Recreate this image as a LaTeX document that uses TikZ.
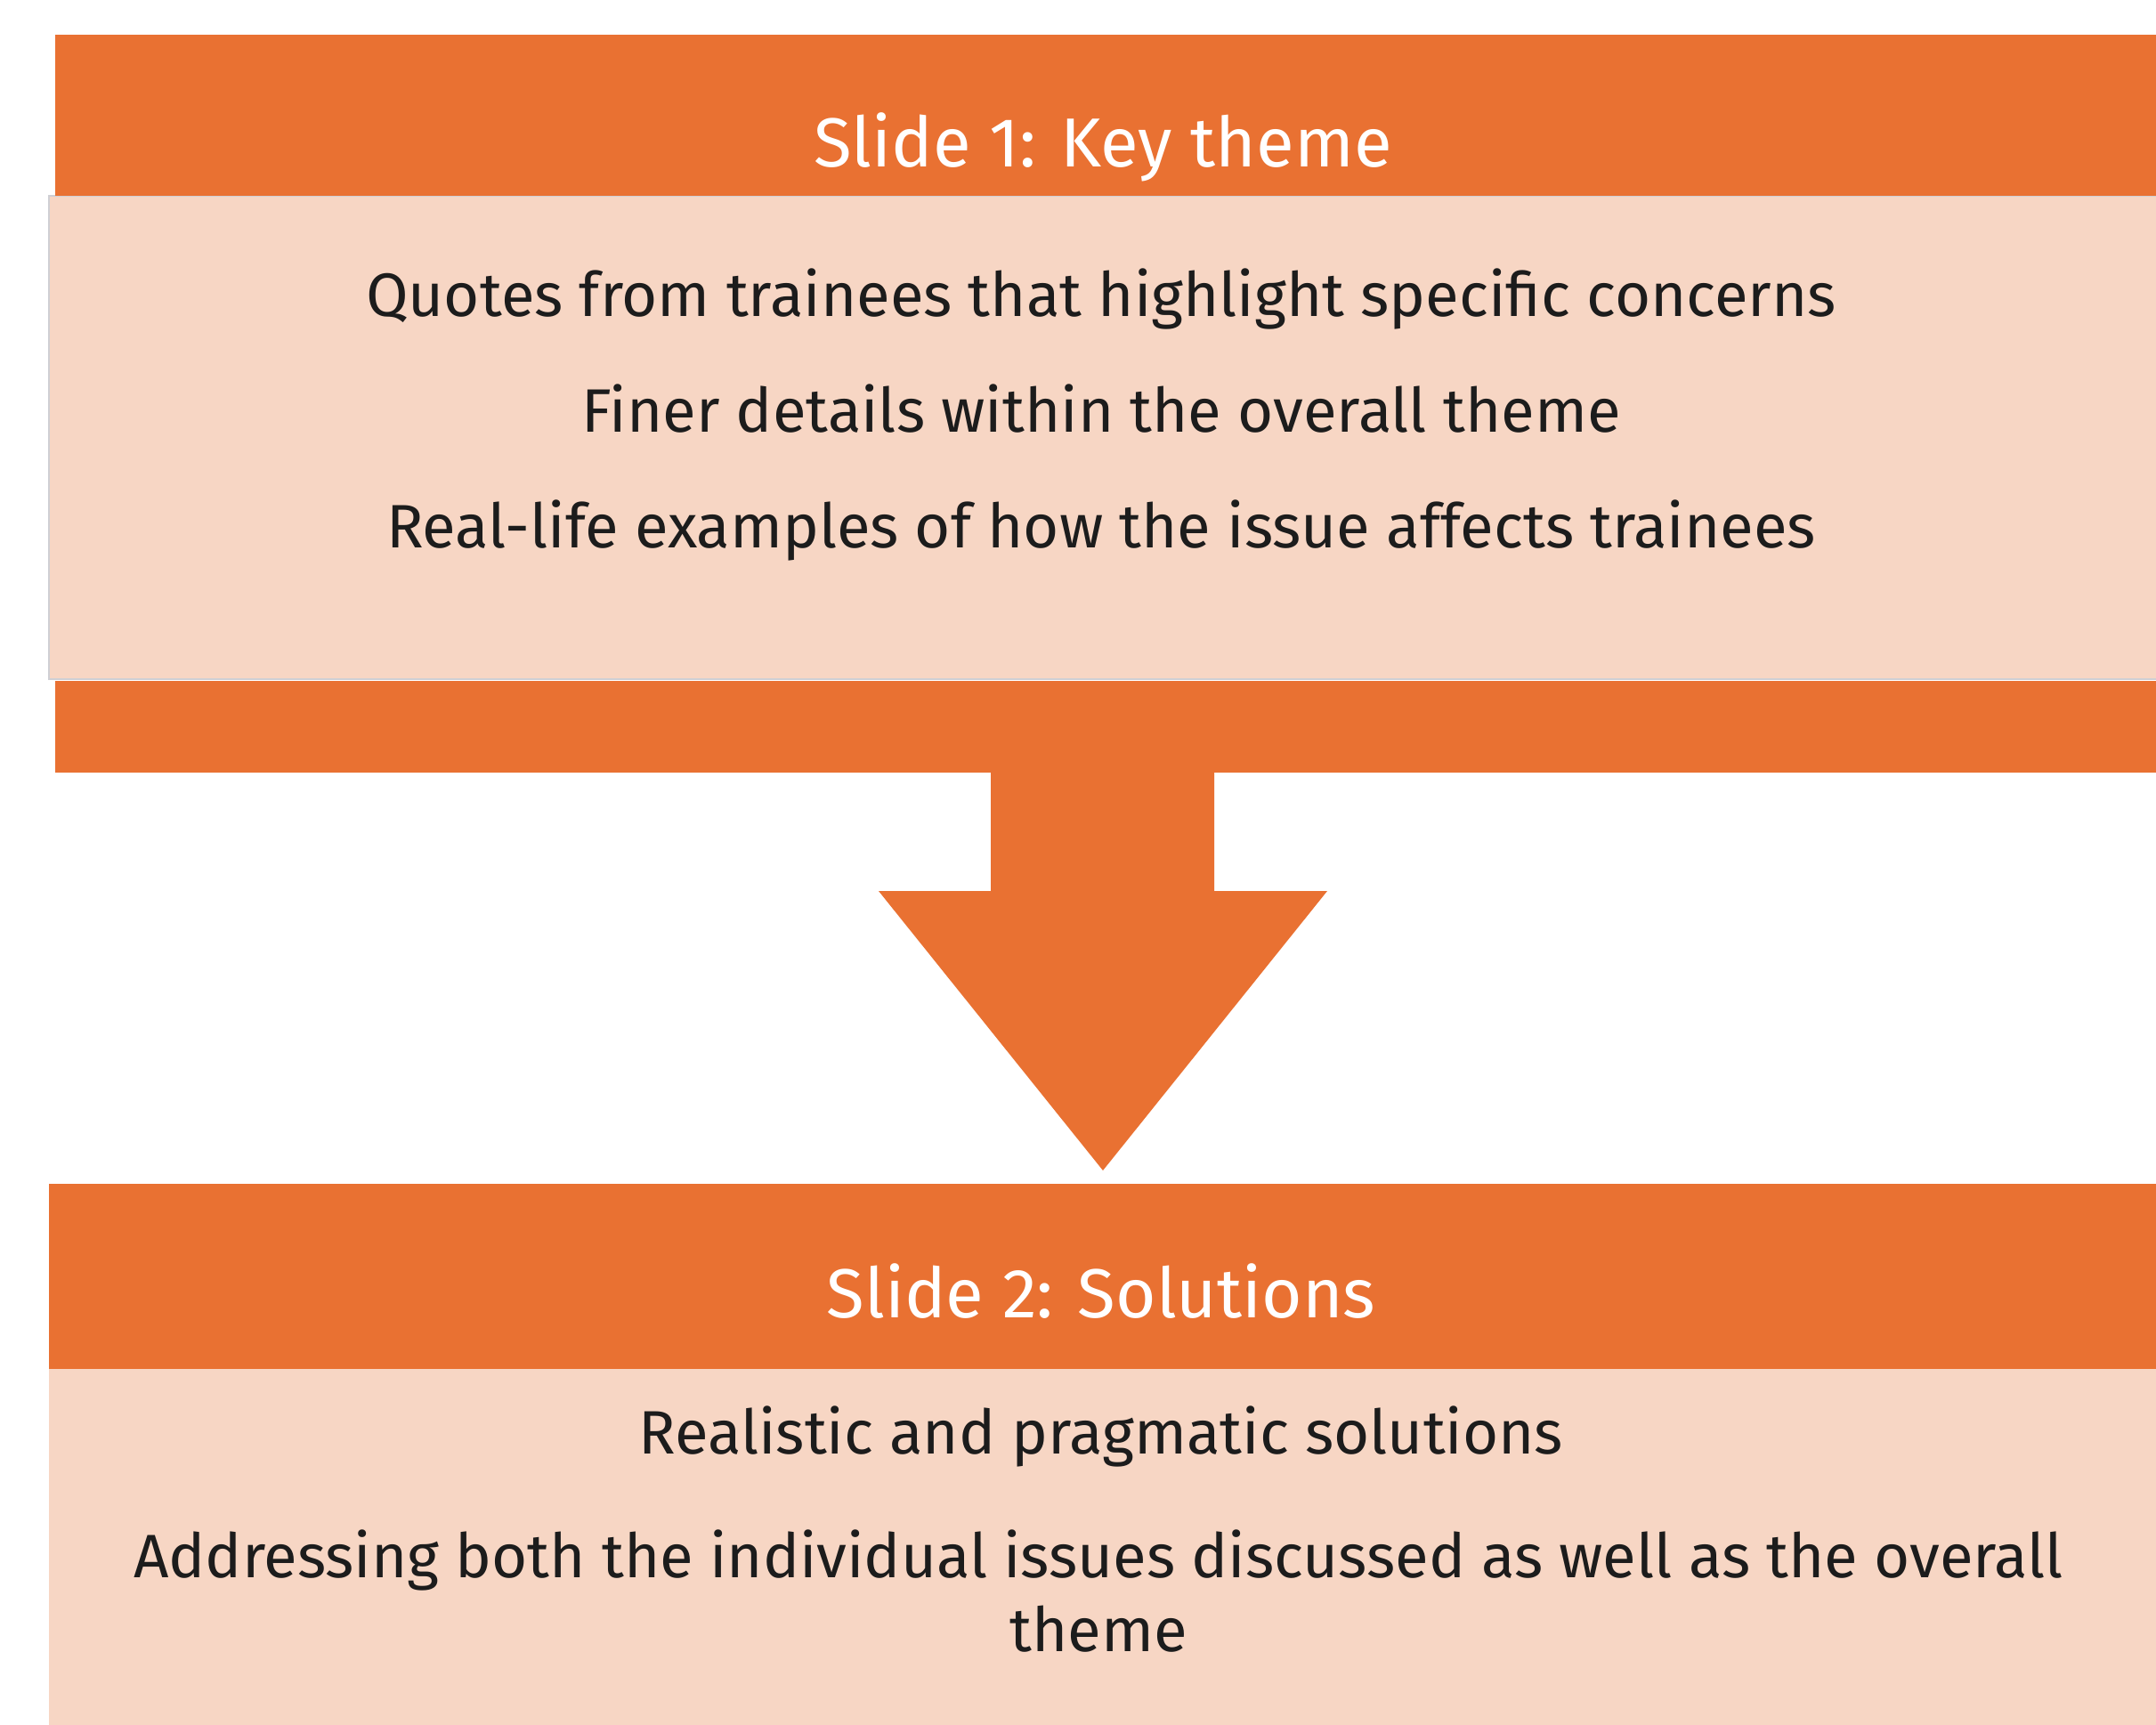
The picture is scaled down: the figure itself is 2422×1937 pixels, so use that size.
\documentclass[tikz,border=0pt]{standalone}
\usepackage{fontspec}
\setmainfont{Fira Sans}
\usepackage{xcolor}
\definecolor{band}{HTML}{E97132}
\definecolor{pane}{HTML}{F7D6C4}
\definecolor{ink}{HTML}{1C1C1C}
\definecolor{edge}{HTML}{CFCFD4}
\usetikzlibrary{positioning}
\tikzset{
  bar/.style={fill=band,draw=none,anchor=north west,inner sep=0pt,minimum width=#1},
  bar/.default=236.1mm,
  panel/.style={fill=pane,anchor=north west,inner sep=0pt,minimum width=236.8mm},
  head/.style={anchor=base,text=white,font=\fontsize{22.2}{27}\selectfont,inner sep=0pt},
  line/.style={anchor=base,text=ink,font=\fontsize{19.6}{23.6}\selectfont,inner sep=0pt,align=center},
}
\begin{document}
\begin{tikzpicture}[x=0.1mm,y=-0.1mm]
\useasboundingbox (0,0) rectangle (2422,1937);
% slide 1 block
\node[panel,draw=edge,line width=0.6pt,minimum height=54.3mm] (pa) at (54,219) {};
\node[bar,minimum height=18.1mm] (ta) at (61,38) {};
\node[bar,minimum height=10.3mm] (tb) at (61,764) {};
% down arrow
\fill[band] (1113,866) -- (1364,866) -- (1364,1001) -- (1491,1001) -- (1239,1315) -- (987,1001) -- (1113,1001) -- cycle;
% slide 2 block
\node[panel,minimum height=40.2mm] (pc) at (54,1536) {};
\node[bar=236.8mm,minimum height=20.8mm] (tc) at (54,1329) {};
% titles and points
\node[head] (h1) at (1239,187) {Slide 1: Key theme};
\node[line] (q1) at (1237,355) {Quotes from trainees that highlight specific concerns};
\node[line] (q2) at (1237,485) {Finer details within the overall theme};
\node[line] (q3) at (1237,615) {Real-life examples of how the issue affects trainees};
\node[head] (h2) at (1237,1480) {Slide 2: Solutions};
\node[line] (s1) at (1237,1633) {Realistic and pragmatic solutions};
\node[line] (s2) at (1234,1855) {Addressing both the individual issues discussed as well as the overall\\theme};
\end{tikzpicture}
\end{document}
